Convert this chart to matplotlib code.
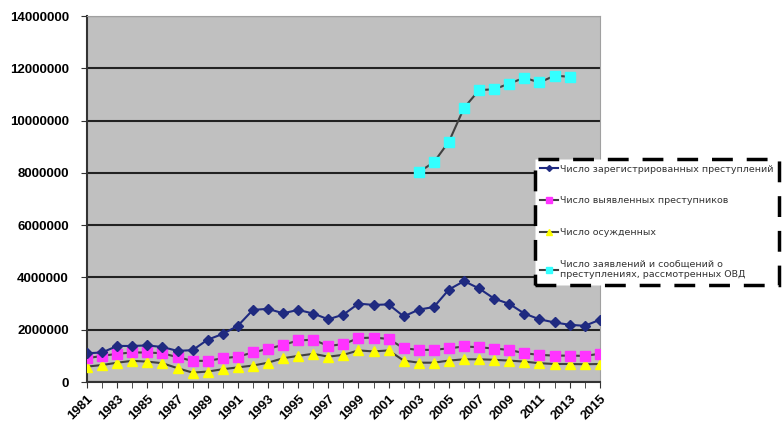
import matplotlib
matplotlib.use('Agg')
import matplotlib.pyplot as plt
import numpy as np

years = list(range(1981, 2016))

# Число зарегистрированных преступлений
registered = [1.10e6, 1.13e6, 1.38e6, 1.38e6, 1.40e6, 1.34e6, 1.19e6, 1.22e6, 1.62e6, 1.84e6,
              2.15e6, 2.76e6, 2.80e6, 2.63e6, 2.76e6, 2.62e6, 2.40e6, 2.58e6, 3.00e6, 2.95e6,
              2.97e6, 2.51e6, 2.77e6, 2.87e6, 3.54e6, 3.86e6, 3.58e6, 3.19e6, 2.99e6, 2.62e6,
              2.40e6, 2.28e6, 2.19e6, 2.15e6, 2.38e6]
# Число выявленных преступников
offenders = [0.91e6, 1.00e6, 1.08e6, 1.13e6, 1.13e6, 1.10e6, 0.95e6, 0.81e6, 0.81e6, 0.91e6,
             0.97e6, 1.13e6, 1.27e6, 1.42e6, 1.59e6, 1.62e6, 1.38e6, 1.45e6, 1.68e6, 1.70e6,
             1.65e6, 1.29e6, 1.23e6, 1.23e6, 1.29e6, 1.36e6, 1.33e6, 1.28e6, 1.23e6, 1.10e6,
             1.04e6, 1.01e6, 1.01e6, 1.00e6, 1.08e6]
# Число осужденных
convicted = [0.59e6, 0.65e6, 0.74e6, 0.81e6, 0.78e6, 0.72e6, 0.53e6, 0.36e6, 0.40e6, 0.49e6,
             0.56e6, 0.63e6, 0.74e6, 0.91e6, 1.00e6, 1.08e6, 0.97e6, 1.04e6, 1.21e6, 1.17e6,
             1.21e6, 0.82e6, 0.74e6, 0.74e6, 0.82e6, 0.87e6, 0.87e6, 0.85e6, 0.82e6, 0.78e6,
             0.72e6, 0.69e6, 0.69e6, 0.68e6, 0.69e6]
# Число заявлений и сообщений о преступлениях (с 2003 по 2013)
reports_years = list(range(2003, 2014))
reports = [8.03e6, 8.41e6, 9.20e6, 10.49e6, 11.17e6, 11.20e6, 11.42e6, 11.64e6, 11.46e6,
           11.72e6, 11.68e6]

labels = ['Число зарегистрированных преступлений',
          'Число выявленных преступников',
          'Число осужденных',
          'Число заявлений и сообщений о\nпреступлениях, рассмотренных ОВД']

plt.rcParams['font.family'] = ['Liberation Sans', 'DejaVu Sans']

fig = plt.figure(figsize=(7.84, 4.24), dpi=100)
ax = fig.add_axes([0.111, 0.099, 0.654, 0.863])
ax.set_facecolor('#c0c0c0')

line_col = '#404040'
ax.plot(years, registered, color='#1f2a80', lw=1.5, marker='D', ms=5,
        mfc='#1f2a80', mec='#1f2a80', label=labels[0], zorder=5)
ax.plot(years, offenders, color=line_col, lw=1.5, marker='s', ms=7,
        mfc='#ff33ff', mec='#ff33ff', label=labels[1], zorder=4)
ax.plot(years, convicted, color=line_col, lw=1.5, marker='^', ms=7,
        mfc='#ffff00', mec='#ffff00', label=labels[2], zorder=3)
ax.plot(reports_years, reports, color=line_col, lw=1.5, marker='s', ms=7,
        mfc='#33ffff', mec='#33ffff', label=labels[3], zorder=4)

ax.set_xlim(1981, 2015)
ax.set_ylim(0, 14000000)
ax.set_yticks(np.arange(0, 14000001, 2000000))
ax.set_yticklabels([str(v) for v in range(0, 14000001, 2000000)],
                   fontsize=9.5, fontweight='bold')
ax.set_xticks(years[::2])
ax.set_xticklabels([str(y) for y in years[::2]], rotation=45, ha='right',
                   rotation_mode='anchor', fontsize=9.5, fontweight='bold')
ax.set_xticks(years, minor=True)
ax.tick_params(axis='x', which='both', direction='out', length=4, color='#333333')
ax.tick_params(axis='y', direction='out', length=4, pad=9, color='#333333')

ax.grid(axis='y', color='#222222', lw=1.5)
ax.set_axisbelow(True)
for s in ['top', 'right']:
    ax.spines[s].set_color('#a0a0a0')
for s in ['left', 'bottom']:
    ax.spines[s].set_color('#333333')
    ax.spines[s].set_linewidth(1.5)

# легенда с пунктирной рамкой
leg = ax.legend(loc='upper left', bbox_to_anchor=(0.682, 0.625),
                bbox_transform=fig.transFigure, frameon=True,
                prop={'family': 'DejaVu Sans', 'size': 6.8},
                fancybox=False, labelspacing=2.4, handlelength=1.9,
                handletextpad=0.2, borderpad=0.6, borderaxespad=0,
                markerscale=0.6)
frame = leg.get_frame()
frame.set_facecolor('white')
frame.set_edgecolor('black')
frame.set_linewidth(2.5)
frame.set_linestyle((0, (6, 4)))
frame.set_alpha(1)
for t in leg.get_texts():
    t.set_color('#333333')

fig.savefig('out.png', dpi=100)
